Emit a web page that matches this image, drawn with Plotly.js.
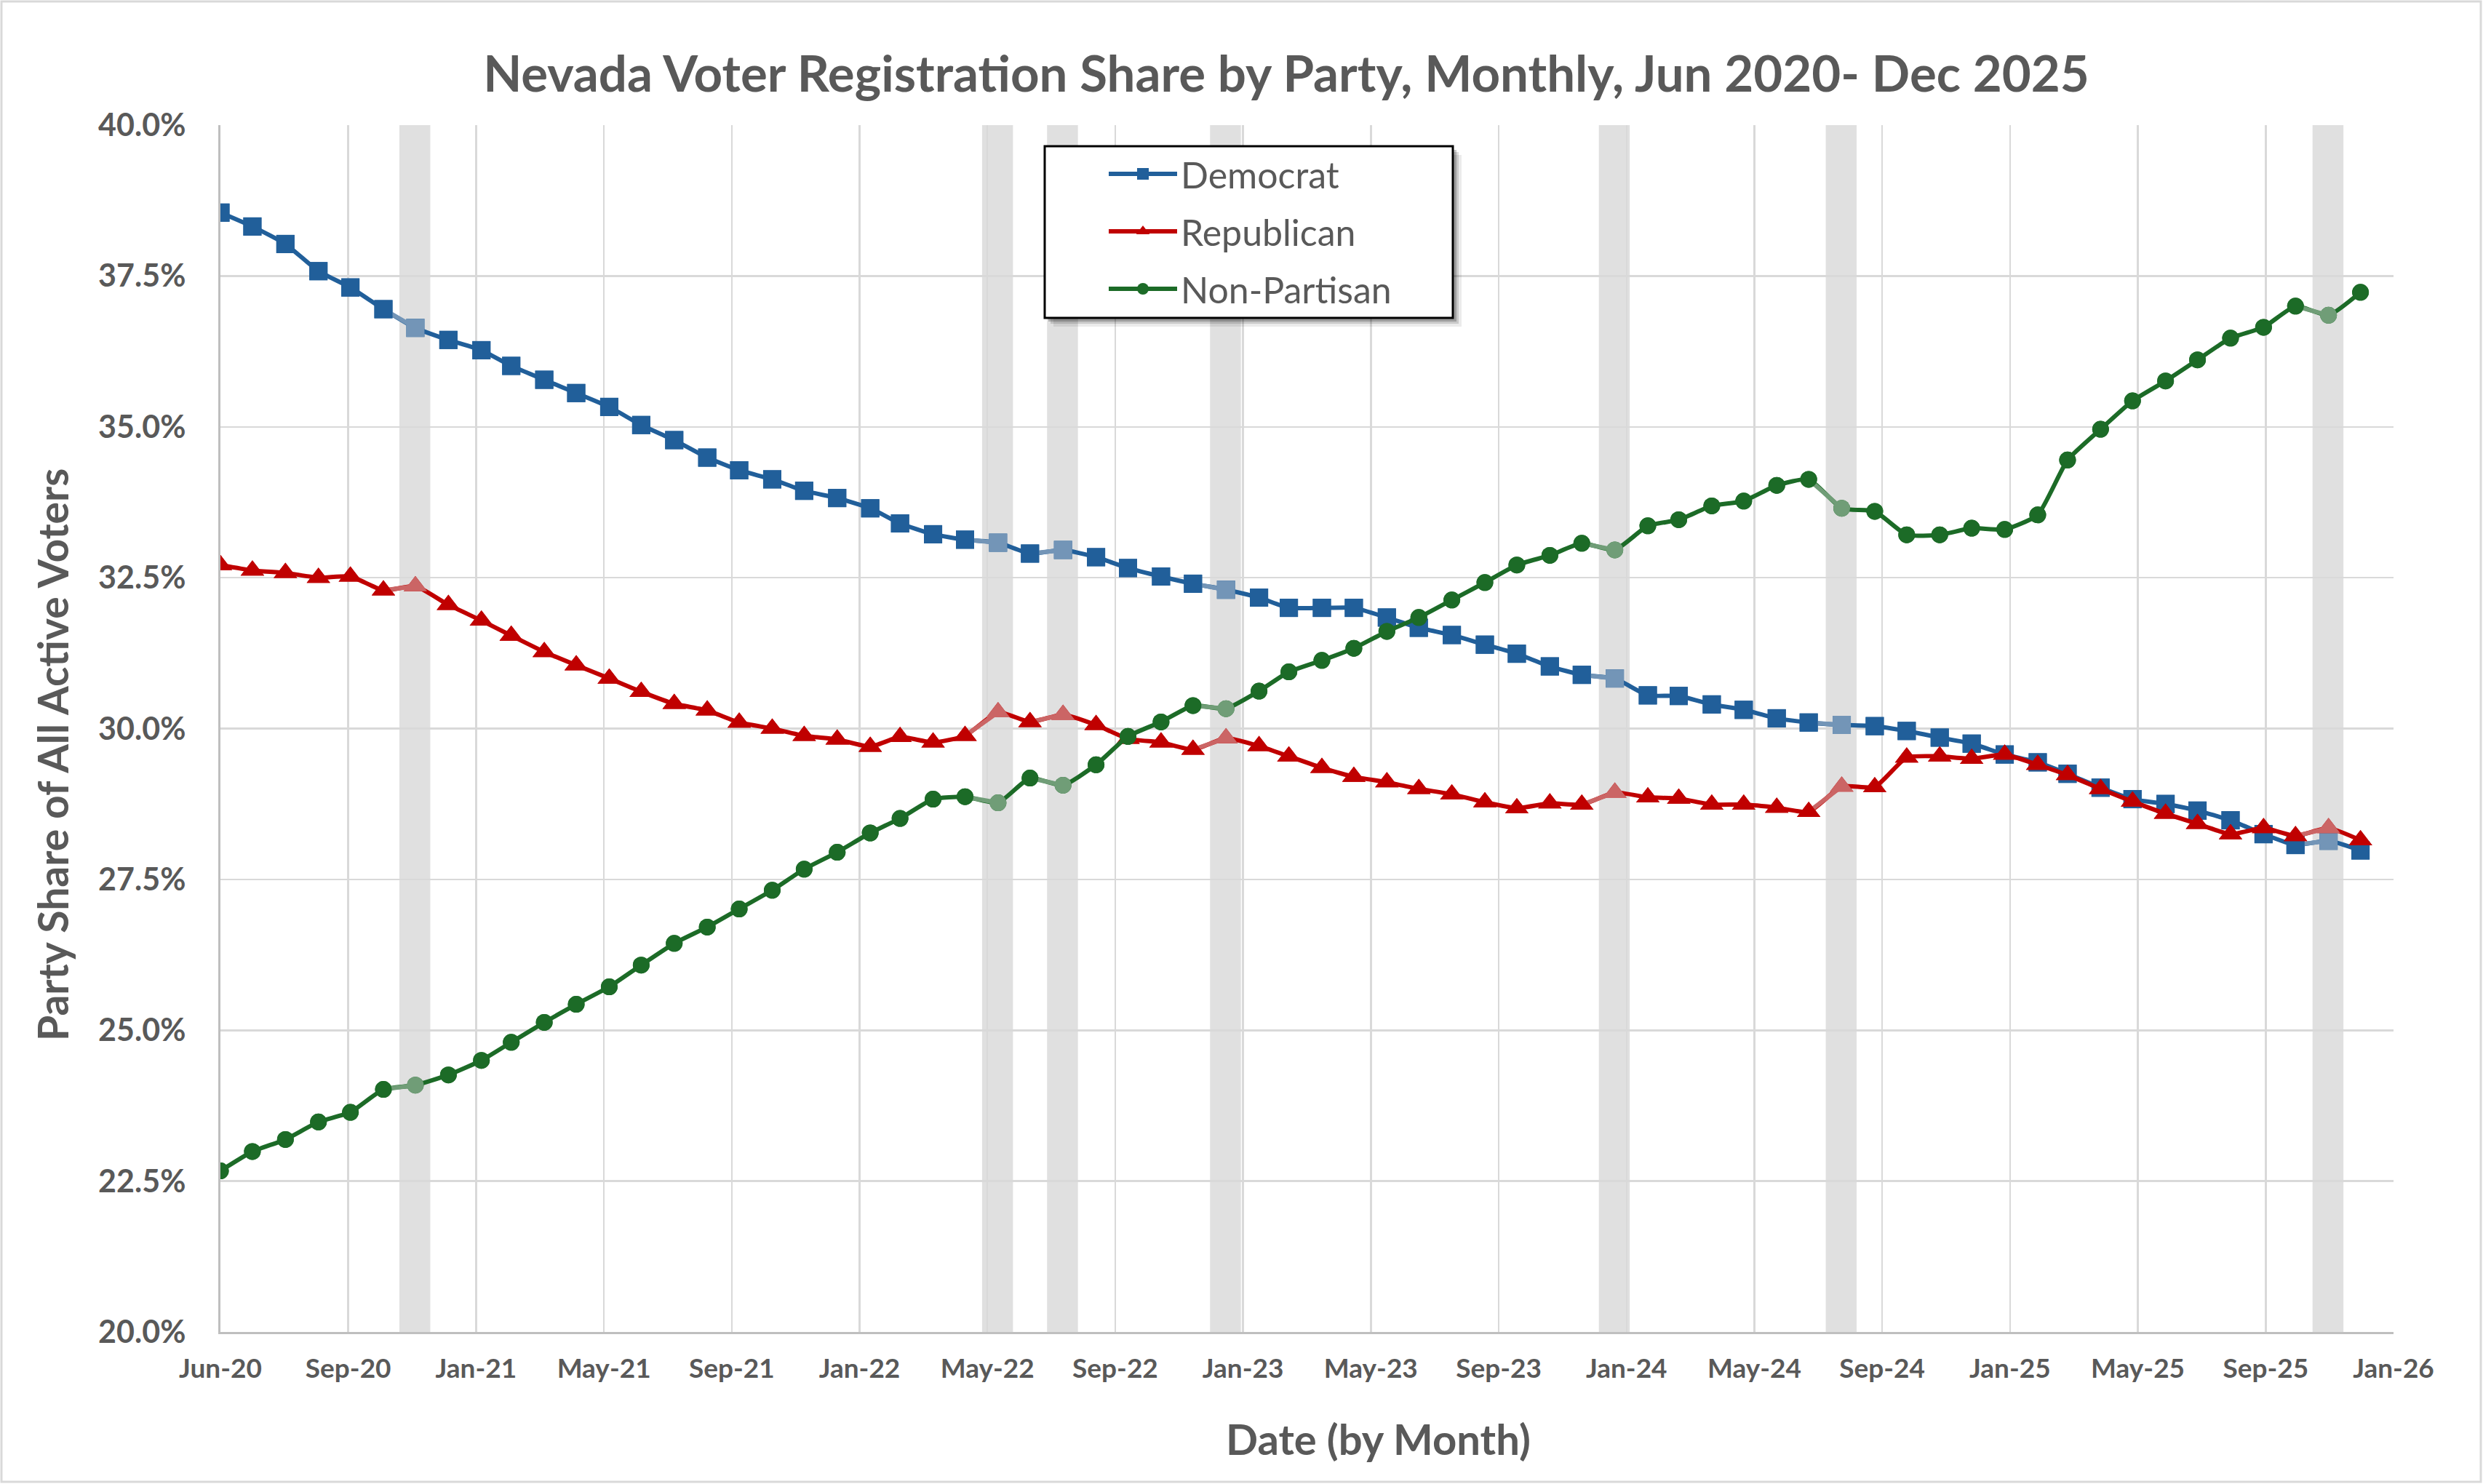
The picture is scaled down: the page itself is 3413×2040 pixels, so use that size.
<!DOCTYPE html>
<html>
<head>
<meta charset="utf-8">
<script src="https://cdn.plot.ly/plotly-3.0.1.min.js"></script>
<style>
  body { margin: 0; background: #ffffff; }
  #chart { width: 3413px; height: 2040px; }
</style>
</head>
<body>
<div id="chart"></div>
<script>
// monthly snapshots, Jun 2020 - Dec 2025
var months = [
    '2020-06','2020-07','2020-08','2020-09','2020-10','2020-11','2020-12',
    '2021-01','2021-02','2021-03','2021-04','2021-05','2021-06','2021-07','2021-08','2021-09','2021-10','2021-11','2021-12',
    '2022-01','2022-02','2022-03','2022-04','2022-05','2022-06','2022-07','2022-08','2022-09','2022-10','2022-11','2022-12',
    '2023-01','2023-02','2023-03','2023-04','2023-05','2023-06','2023-07','2023-08','2023-09','2023-10','2023-11','2023-12',
    '2024-01','2024-02','2024-03','2024-04','2024-05','2024-06','2024-07','2024-08','2024-09','2024-10','2024-11','2024-12',
    '2025-01','2025-02','2025-03','2025-04','2025-05','2025-06','2025-07','2025-08','2025-09','2025-10','2025-11','2025-12'
];

// share of active voters, percent
var democrat = [
    38.55, 38.32, 38.03, 37.58, 37.31, 36.95, 36.64,
    36.44, 36.27, 36.01, 35.78, 35.56, 35.33, 35.03, 34.78, 34.49, 34.28, 34.13, 33.94,
    33.82, 33.65, 33.40, 33.22, 33.13, 33.08, 32.90, 32.96, 32.84, 32.66, 32.52, 32.40,
    32.30, 32.17, 32.00, 32.00, 32.00, 31.84, 31.67, 31.55, 31.39, 31.24, 31.03, 30.89,
    30.83, 30.55, 30.54, 30.40, 30.31, 30.17, 30.10, 30.06, 30.04, 29.96, 29.85, 29.75,
    29.57, 29.44, 29.25, 29.02, 28.83, 28.75, 28.64, 28.48, 28.25, 28.07, 28.14, 27.98
];
var republican = [
    32.71, 32.62, 32.58, 32.50, 32.52, 32.29, 32.36,
    32.05, 31.79, 31.54, 31.27, 31.05, 30.83, 30.61, 30.41, 30.30, 30.10, 30.00, 29.88,
    29.82, 29.70, 29.86, 29.77, 29.88, 30.27, 30.11, 30.23, 30.06, 29.83, 29.77, 29.65,
    29.84, 29.71, 29.54, 29.35, 29.20, 29.11, 29.00, 28.91, 28.78, 28.68, 28.76, 28.74,
    28.94, 28.86, 28.84, 28.74, 28.74, 28.69, 28.62, 29.04, 29.03, 29.52, 29.54, 29.50,
    29.57, 29.40, 29.23, 29.00, 28.79, 28.59, 28.42, 28.25, 28.35, 28.22, 28.35, 28.15
];
var nonPartisan = [
    22.67, 22.99, 23.19, 23.48, 23.64, 24.02, 24.09,
    24.26, 24.50, 24.80, 25.13, 25.43, 25.72, 26.08, 26.44, 26.71, 27.01, 27.32, 27.67,
    27.95, 28.27, 28.51, 28.83, 28.87, 28.77, 29.18, 29.06, 29.40, 29.87, 30.11, 30.38,
    30.33, 30.62, 30.94, 31.13, 31.33, 31.61, 31.84, 32.13, 32.42, 32.71, 32.87, 33.07,
    32.96, 33.36, 33.46, 33.69, 33.77, 34.03, 34.13, 33.65, 33.60, 33.21, 33.21, 33.32,
    33.30, 33.54, 34.45, 34.96, 35.43, 35.76, 36.11, 36.47, 36.65, 37.00, 36.85, 37.23
];

// months shaded grey (points drawn faded)
var shadedMonths = ['2020-12', '2022-06', '2022-08', '2023-01', '2024-01', '2024-08', '2025-11'];

var FONT = 'Lato, "Open Sans", sans-serif';
var TEXT = '#595959';

// plot area in page pixels
var PLOT = { left: 303, right: 3290, top: 172, bottom: 1831 };
function paperX(px) { return (px - PLOT.left) / (PLOT.right - PLOT.left); }
function paperY(py) { return (PLOT.bottom - py) / (PLOT.bottom - PLOT.top); }

function shiftDays(ym, days) {
    var t = Date.UTC(+ym.slice(0, 4), +ym.slice(5, 7) - 1, 1) + days * 864e5;
    return new Date(t).toISOString().slice(0, 10);
}

var dates = months.map(m => m + '-01');
var shadedIdx = shadedMonths.map(m => months.indexOf(m));

var series = [
    { name: 'Democrat', y: democrat, color: '#215f9a', faded: '#7395b7', symbol: 'square', size: 25 },
    { name: 'Republican', y: republican, color: '#c00000', faded: '#cb6565', symbol: 'triangle-up', size: 28 },
    { name: 'Non-Partisan', y: nonPartisan, color: '#1c6b27', faded: '#709d77', symbol: 'circle', size: 23 }
];

var traces = [];
series.forEach(function(s) {
    // main line, also what the legend shows
    traces.push({
        x: dates, y: s.y, name: s.name, legendgroup: s.name,
        type: 'scatter', mode: 'lines+markers',
        line: { color: s.color, width: 6, shape: 'spline', smoothing: 0.5 },
        marker: { color: s.color, symbol: s.symbol, size: s.size },
        hoverinfo: 'skip'
    });
    // faded segment leading into each shaded month
    var sx = [], sy = [];
    shadedIdx.forEach(function(i) {
        sx.push(dates[i - 1], dates[i], null);
        sy.push(s.y[i - 1], s.y[i], null);
    });
    traces.push({
        x: sx, y: sy, type: 'scatter', mode: 'lines', showlegend: false,
        line: { color: s.faded, width: 6 }, hoverinfo: 'skip'
    });
    // markers again on top, faded in shaded months
    traces.push({
        x: dates, y: s.y, type: 'scatter', mode: 'markers', showlegend: false,
        marker: {
            symbol: s.symbol, size: s.size,
            color: months.map((m, i) => shadedIdx.indexOf(i) >= 0 ? s.faded : s.color)
        },
        hoverinfo: 'skip'
    });
});

var shapes = shadedMonths.map(m => ({
    type: 'rect', layer: 'below', xref: 'x', yref: 'paper',
    x0: shiftDays(m, -15), x1: shiftDays(m, 14), y0: 0, y1: 1,
    fillcolor: '#e0e0e0', line: { width: 0 }
}));

// legend frame with a soft shadow
var box = { x0: 1436, x1: 1997, y0: 201, y1: 437 };
[[12, 0.08], [8, 0.14], [5, 0.22]].forEach(function(o) {
    shapes.push({
        type: 'rect', layer: 'above', xref: 'paper', yref: 'paper',
        x0: paperX(box.x0 + o[0]), x1: paperX(box.x1 + o[0]),
        y0: paperY(box.y1 + o[0]), y1: paperY(box.y0 + o[0]),
        fillcolor: 'rgba(0,0,0,' + o[1] + ')', line: { width: 0 }
    });
});
shapes.push({
    type: 'rect', layer: 'above', xref: 'paper', yref: 'paper',
    x0: paperX(box.x0), x1: paperX(box.x1), y0: paperY(box.y1), y1: paperY(box.y0),
    fillcolor: '#ffffff', line: { color: '#000000', width: 3 }
});
// chart border
shapes.push({
    type: 'rect', layer: 'above', xref: 'paper', yref: 'paper',
    x0: paperX(2), x1: paperX(3410), y0: paperY(2037), y1: paperY(2),
    fillcolor: 'rgba(0,0,0,0)', line: { color: '#d9d9d9', width: 3 }
});

var layout = {
    width: 3413,
    height: 2040,
    margin: { l: PLOT.left, r: 3413 - PLOT.right, t: PLOT.top, b: 2040 - PLOT.bottom },
    paper_bgcolor: '#ffffff',
    plot_bgcolor: '#ffffff',
    font: { family: FONT, color: TEXT },
    title: {
        text: 'Nevada Voter Registration Share by Party, Monthly, Jun 2020- Dec 2025',
        font: { family: FONT, size: 69, color: TEXT, weight: 700 },
        xref: 'container', yref: 'container',
        x: 1768 / 3413, y: 1 - 102 / 2040, xanchor: 'center', yanchor: 'middle'
    },
    xaxis: {
        type: 'date',
        range: ['2020-06-01', '2026-01-01'],
        tick0: '2020-06-01',
        dtick: 120 * 864e5,
        tickformat: '%b-%y',
        tickfont: { family: FONT, size: 37, color: TEXT, weight: 700 },
        ticks: '',
        ticklabelstandoff: 16,
        showgrid: true, gridcolor: '#d9d9d9', gridwidth: 2.5,
        showline: true, linecolor: '#bfbfbf', linewidth: 3,
        zeroline: false, fixedrange: true
    },
    yaxis: {
        range: [20, 40],
        dtick: 2.5,
        tickformat: '.1f',
        ticksuffix: '%',
        tickfont: { family: FONT, size: 43, color: TEXT, weight: 700 },
        ticks: '',
        ticklabelstandoff: 36,
        showgrid: true, gridcolor: '#d9d9d9', gridwidth: 2.5,
        showline: true, linecolor: '#bfbfbf', linewidth: 3,
        zeroline: false, fixedrange: true
    },
    legend: {
        x: paperX(1519), y: paperY(200), xanchor: 'left', yanchor: 'top',
        bgcolor: 'rgba(0,0,0,0)', borderwidth: 0,
        font: { family: FONT, size: 50, color: TEXT },
        itemwidth: 94,
        traceorder: 'grouped',
        tracegroupgap: 11
    },
    annotations: [
        {
            text: 'Date (by Month)', showarrow: false,
            xref: 'paper', yref: 'paper', x: paperX(1894), y: paperY(1977),
            xanchor: 'center', yanchor: 'middle',
            font: { family: FONT, size: 58, color: TEXT, weight: 700 }
        },
        {
            text: 'Party Share of All Active Voters', showarrow: false, textangle: -90,
            xref: 'paper', yref: 'paper', x: paperX(72), y: paperY(1038),
            xanchor: 'center', yanchor: 'middle',
            font: { family: FONT, size: 57, color: TEXT, weight: 700 }
        }
    ],
    shapes: shapes,
    showlegend: true
};

Plotly.newPlot('chart', traces, layout, { displayModeBar: false, staticPlot: true });
</script>
</body>
</html>
